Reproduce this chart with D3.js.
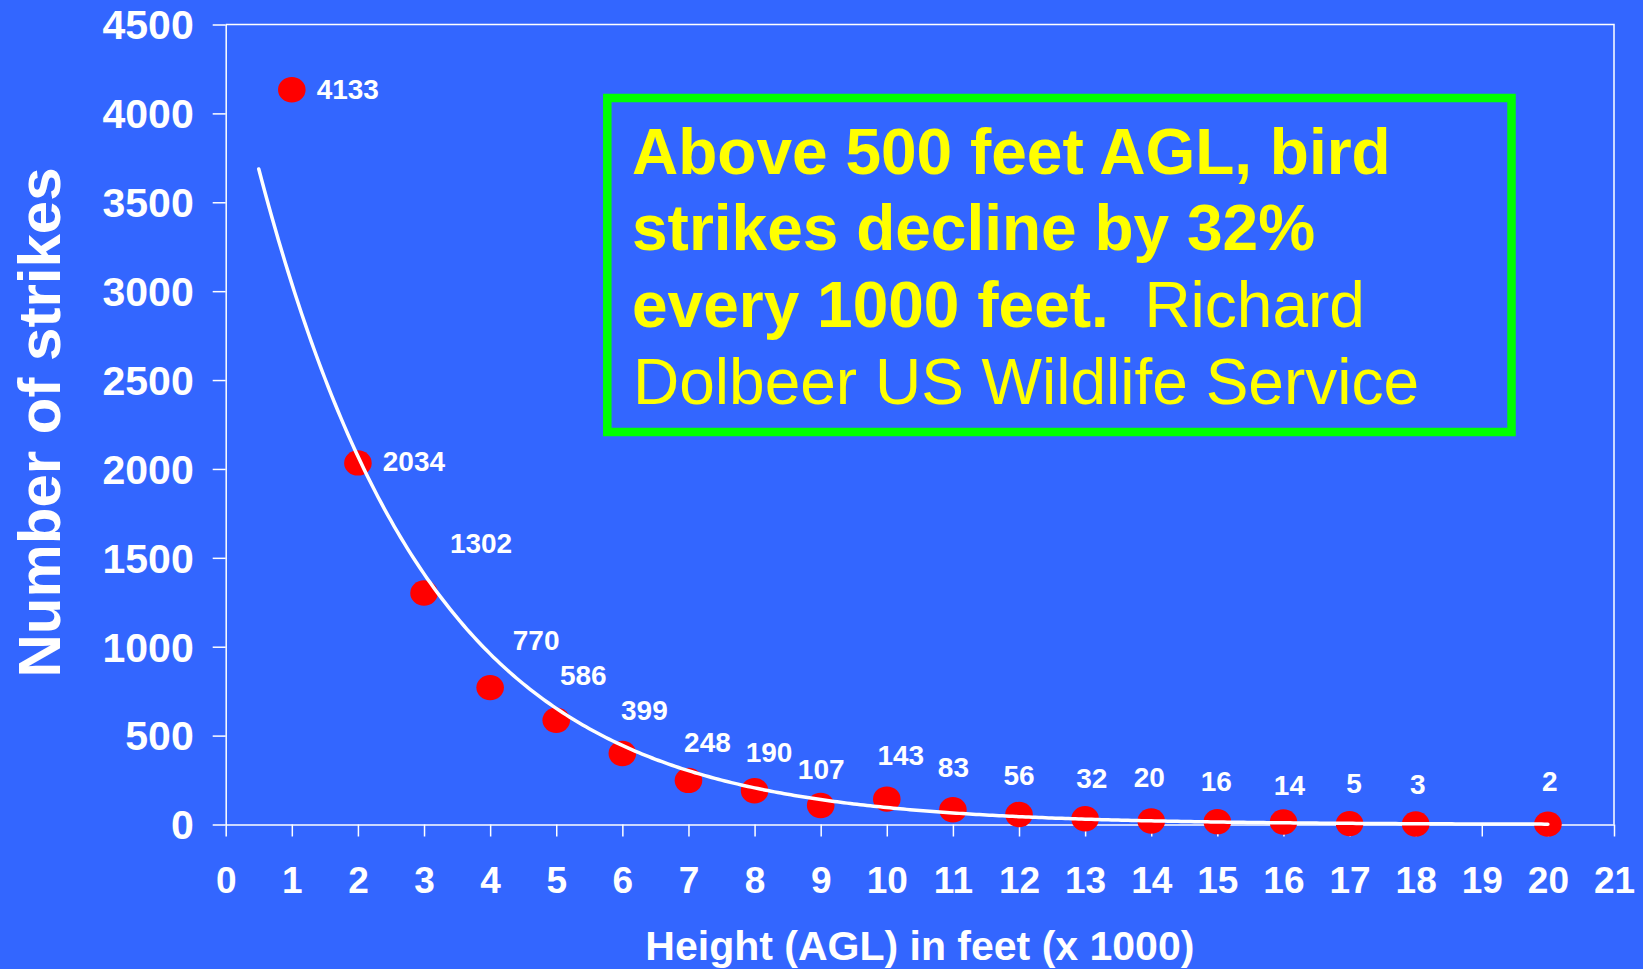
<!DOCTYPE html>
<html>
<head>
<meta charset="utf-8">
<script src="https://cdn.jsdelivr.net/npm/d3@7/dist/d3.min.js"></script>
<style>
  html, body { margin: 0; padding: 0; background: #3366ff; }
  svg { display: block; }
  text { font-family: "Liberation Sans", Arial, Helvetica, sans-serif; }
</style>
</head>
<body>
<svg id="chart" width="1643" height="969"></svg>
<script>
// Bird strikes by height above ground level (thousands of feet)
const heights = [1, 2, 3, 4, 5, 6, 7, 8, 9, 10, 11, 12, 13, 14, 15, 16, 17, 18, 20];
const strikes = [4133, 2034, 1302, 770, 586, 399, 248, 190, 107, 143, 83, 56, 32, 20, 16, 14, 5, 3, 2];
const xTicks = d3.range(0, 22, 1);
const yTicks = d3.range(0, 4501, 500);

// Data label placement relative to each marker (pixels: dx to label centre, dy to baseline)
const labelDx = [56, 56, 57, 46, 27, 22, 19, 14.5, 0.5, 14, 0.5, 0, 6.7, -2, -1, 6, 4.6, 2, 2];
const labelDy = [9, 8, -40, -37.6, -35, -34, -28, -29, -26, -34, -33, -29.5, -30.5, -33.6, -31, -27, -30.3, -30, -33.4];

// Trendline extent (backward forecast of half a unit)
const trendFrom = 0.5, trendTo = 20;

const noteBold1 = "Above 500 feet AGL, bird";
const noteBold2 = "strikes decline by 32%";
const noteBold3 = "every 1000 feet.";
const noteReg3 = "\u00a0\u00a0Richard";
const noteReg4 = "Dolbeer US Wildlife Service";

const svg = d3.select("#chart");
const W = 1643, H = 969;
const plot = { left: 225.7, right: 1614, top: 24.5, bottom: 824.5 };

svg.append("rect").attr("width", W).attr("height", H).attr("fill", "#3366ff");

const x = d3.scaleLinear().domain([0, 21]).range([plot.left, plot.right]);
const y = d3.scaleLinear().domain([0, 4500]).range([plot.bottom, plot.top]);

// Plot frame (top and right)
svg.append("path")
  .attr("d", `M${plot.left},${plot.top}H${plot.right}V${plot.bottom}`)
  .attr("fill", "none").attr("stroke", "#fff").attr("stroke-width", 1.5);

// Axes
const yAxis = svg.append("g")
  .attr("transform", `translate(${plot.left},0)`)
  .call(d3.axisLeft(y).tickValues(yTicks).tickFormat(d3.format("d"))
    .tickSize(13).tickSizeOuter(0).tickPadding(19));
yAxis.selectAll("text")
  .attr("fill", "#fff").attr("font-size", 41).attr("font-weight", "bold")
  .attr("dy", "0.35em");

const xAxis = svg.append("g")
  .attr("transform", `translate(0,${plot.bottom})`)
  .call(d3.axisBottom(x).tickValues(xTicks).tickFormat(d3.format("d"))
    .tickSize(12).tickSizeOuter(0).tickPadding(30.5));
xAxis.selectAll("text")
  .attr("fill", "#fff").attr("font-size", 37).attr("font-weight", "bold");

svg.selectAll(".domain").attr("stroke", "#fff").attr("stroke-width", 1.5);
svg.selectAll(".tick line").attr("stroke", "#fff").attr("stroke-width", 1.5);
svg.selectAll("g").attr("font-family", null);

// Axis titles
svg.append("text")
  .attr("x", (plot.left + plot.right) / 2).attr("y", 960)
  .attr("text-anchor", "middle")
  .attr("fill", "#fff").attr("font-size", 41).attr("font-weight", "bold")
  .text("Height (AGL) in feet (x 1000)");

svg.append("text")
  .attr("transform", `translate(60,${(plot.top + plot.bottom) / 2 - 2}) rotate(-90)`)
  .attr("text-anchor", "middle")
  .attr("fill", "#fff").attr("font-size", 60).attr("font-weight", "bold")
  .text("Number of strikes");

// Markers
const pts = heights.map((h, i) => ({ h, v: strikes[i], i }));
svg.append("g").selectAll("ellipse").data(pts).join("ellipse")
  .attr("cx", d => x(d.h)).attr("cy", d => y(d.v))
  .attr("rx", 13.8).attr("ry", 12.7)
  .attr("fill", "#ff0000");

// Exponential trendline: least squares fit of ln(strikes) against height
const lx = heights, ly = strikes.map(v => Math.log(v));
const mx = d3.mean(lx), my = d3.mean(ly);
const slope = d3.sum(lx, (v, i) => (v - mx) * (ly[i] - my)) / d3.sum(lx, v => (v - mx) ** 2);
const intercept = my - slope * mx;
const fit = t => Math.exp(intercept + slope * t);
const trendPts = d3.range(trendFrom, trendTo + 1e-9, 0.05).map(t => [t, fit(t)]);
svg.append("path")
  .datum(trendPts)
  .attr("d", d3.line().x(d => x(d[0])).y(d => y(d[1])))
  .attr("fill", "none").attr("stroke", "#fff").attr("stroke-width", 3.5)
  .attr("stroke-linejoin", "round").attr("stroke-linecap", "round");

// Data labels
svg.append("g").selectAll("text").data(pts).join("text")
  .attr("x", d => x(d.h) + labelDx[d.i])
  .attr("y", d => y(d.v) + labelDy[d.i])
  .attr("text-anchor", "middle")
  .attr("fill", "#fff").attr("font-size", 28).attr("font-weight", "bold")
  .text(d => d.v);

// Annotation box
svg.append("rect")
  .attr("x", 607.3).attr("y", 98).attr("width", 904.2).attr("height", 334)
  .attr("fill", "none").attr("stroke", "#00ff00").attr("stroke-width", 8.5);

const note = svg.append("g").attr("fill", "#ffff00").attr("font-size", 64);
note.append("text").attr("x", 632).attr("y", 173.5).attr("font-weight", "bold").text(noteBold1);
note.append("text").attr("x", 632).attr("y", 250).attr("font-weight", "bold").text(noteBold2);
const l3 = note.append("text").attr("x", 632).attr("y", 327);
l3.append("tspan").attr("font-weight", "bold").text(noteBold3);
l3.append("tspan").text(noteReg3);
note.append("text").attr("x", 633).attr("y", 403.5).text(noteReg4);
</script>
</body>
</html>
